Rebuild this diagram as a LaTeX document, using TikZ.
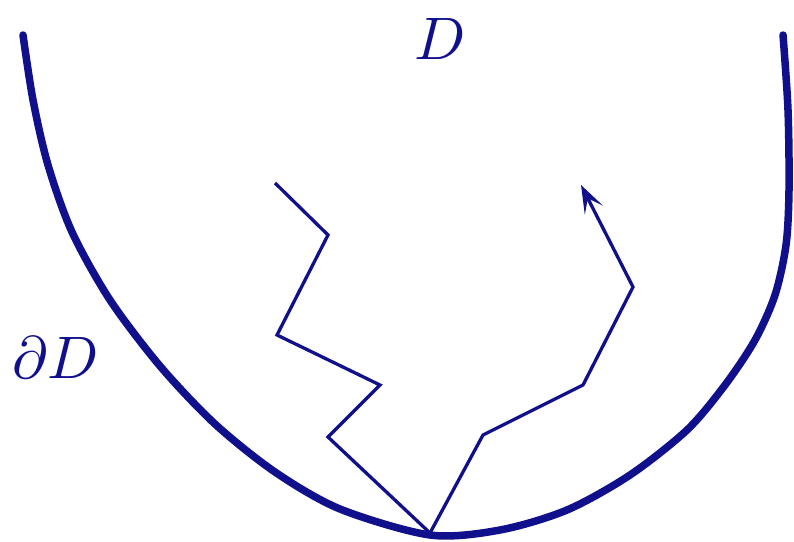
\documentclass[tikz,border=0pt]{standalone}
\usetikzlibrary{arrows.meta}
\definecolor{ink}{RGB}{16,16,140}
\begin{document}
\begin{tikzpicture}[x=1pt,y=-1pt,
  boundary/.style={draw=ink,line width=7.5pt,line cap=round,line join=round},
  walk/.style={draw=ink,line width=3.3pt,line join=miter},
  lbl/.style={text=ink,inner sep=0pt,scale=6}]
\useasboundingbox (0,0) rectangle (794,541);
% boundary of D
\draw[boundary] plot[smooth,tension=0.5] coordinates {
  (23,35) (33,100) (48,165) (72,232) (110,300) (160,366) (215,424)
  (275,472) (340,509) (430,535) (500,530) (567,510) (630,475) (687,430)
  (725,385) (755,340) (775,295) (786,245) (789,190) (788,110) (783,35)};
% labels
\node[lbl,anchor=base west] (D) at (413,59) {$D$};
\node[lbl,anchor=base west] (dD) at (11,378) {$\partial D$};
% vertices
\coordinate (o) at (430,533);
\coordinate (a1) at (328,437);
\coordinate (a2) at (380,385);
\coordinate (a3) at (277,335);
\coordinate (a4) at (328,235);
\coordinate (a5) at (275,183);
\coordinate (b1) at (483,435);
\coordinate (b2) at (583,385);
\coordinate (b3) at (633,287);
\coordinate (b4) at (581,185);
% walks
\draw[walk] (o) -- (a1) -- (a2) -- (a3) -- (a4) -- (a5);
\draw[walk,-{Stealth[length=28pt,width=20pt,inset=13pt]}] (o) -- (b1) -- (b2) -- (b3) -- (b4);
\end{tikzpicture}
\end{document}
